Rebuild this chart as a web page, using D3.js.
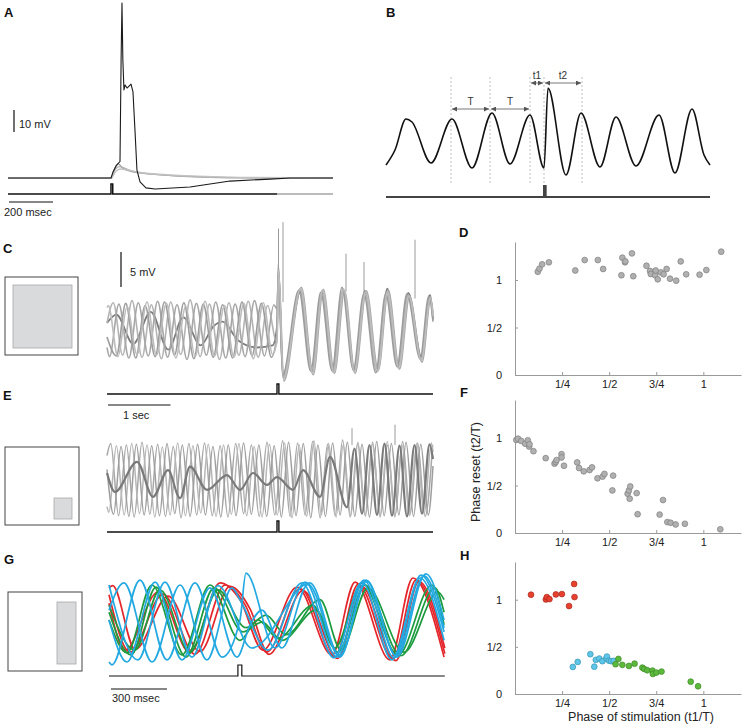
<!DOCTYPE html>
<html>
<head>
<meta charset="utf-8">
<script src="https://cdn.jsdelivr.net/npm/d3@7"></script>
<style>
  body { margin: 0; background: #fff; }
  svg { font-family: "Liberation Sans", Arial, Helvetica, sans-serif; }
</style>
</head>
<body>
<div id="fig"></div>
<script>
// ---------- A: single cell, one spiking trial and subthreshold trials (ms, mV)
const aSpikeTrace = [[0,-65],[468,-65],[477,-62.3],[491,-59.5],[509,-57.5],[514,-11.4],[518,14.5],[522,-11.4],[527,-25],[532,-22.7],[541,-24.1],[550,-23.2],[559,-22.3],[568,-25.9],[577,-43.2],[586,-61.4],[600,-66.8],[627,-69.5],[668,-70],[827,-69.1],[1009,-66.4],[1191,-65.5],[1282,-65],[1477,-65]];
const aSubTraces = [
  [[0,-65],[470,-65],[486,-60.5],[500,-58.6],[527,-61],[600,-62.7],[873,-64.5],[1182,-65],[1477,-65]],
  [[0,-65.2],[470,-65.2],[486,-61.3],[505,-59.8],[560,-61.8],[700,-63.6],[950,-64.8],[1477,-65.1]],
  [[0,-64.8],[470,-64.8],[490,-62],[510,-60.9],[600,-62.5],[800,-63.9],[1100,-64.7],[1477,-64.9]]
];
const aStim = 468;

// ---------- B: ongoing oscillation with definitions of T, t1, t2 (ms, mV rel.)
const bTrace = [[0,-8],[27,-2],[60,10.4],[78,9.2],[135,-7.2],[198,10.4],[258,-9.2],[318,12.8],[372,-7.6],[432,12],[474,-9.2],[486,22.8],[540,-12],[585,12.8],[642,-8.8],[690,11.2],[750,-8.4],[819,12],[867,-11.2],[918,14.4],[954,-4],[972,-8]];
const bMarks = [195, 312, 432, 474, 588];
const bIntervals = [
  {from: 195, to: 312, label: "T"},
  {from: 312, to: 432, label: "T"},
  {from: 432, to: 474, label: "t1"},
  {from: 474, to: 588, label: "t2"}
];
const bStim = 474;

// ---------- C: full-field stimulation, 5 trials (ms, mV rel.)
const cLight = [
  [[0,1.0],[100,3.9],[250,-3.6],[400,4.2],[560,-3.9],[710,3.6],[870,-4.1],[1020,4.0],[1180,-3.5],[1330,4.3],[1490,-3.8],[1640,3.7],[1800,-4.2],[1950,3.9],[2110,-3.6],[2260,4.1],[2420,-3.9],[2570,3.5],[2720,-2.0],[2744,8.9],[2816,-6.9],[3090,5.9],[3280,-6.1],[3440,5.6],[3616,-6.0],[3776,5.9],[3952,-5.9],[4128,5.4],[4320,-6.0],[4480,5.4],[4656,-5.4],[4816,5.0],[5024,-4.3],[5168,4.7],[5216,1.7]],
  [[0,-2.5],[40,-3.8],[190,3.7],[350,-4.0],[500,3.9],[660,-3.7],[810,4.1],[970,-3.9],[1120,3.6],[1280,-4.2],[1430,3.8],[1590,-3.6],[1740,4.0],[1900,-4.0],[2050,3.7],[2210,-3.8],[2360,4.2],[2520,-3.7],[2670,3.6],[2720,3.0],[2748,8.2],[2830,-7.3],[3110,6.1],[3300,-6.4],[3460,5.8],[3640,-6.2],[3800,5.6],[3970,-6.2],[4150,5.6],[4340,-5.8],[4500,5.7],[4680,-5.6],[4840,4.8],[5040,-4.6],[5180,4.4],[5216,2.5]],
  [[0,-1.0],[150,-3.7],[300,3.8],[460,-4.0],[610,3.5],[770,-3.8],[920,4.0],[1080,-3.6],[1230,3.9],[1390,-4.1],[1540,3.7],[1700,-3.9],[1850,3.6],[2010,-4.0],[2160,4.0],[2320,-3.7],[2470,3.8],[2630,-3.9],[2720,-0.5],[2740,9.4],[2810,-6.5],[3070,5.7],[3260,-5.9],[3420,5.4],[3600,-5.8],[3760,6.1],[3940,-5.7],[4110,5.2],[4300,-6.1],[4460,5.2],[4640,-5.2],[4800,5.2],[5010,-4.1],[5150,4.9],[5216,1.2]],
  [[0,3.2],[20,3.5],[175,-3.8],[320,3.3],[480,-3.5],[640,4.0],[790,-3.6],[950,3.8],[1100,-4.0],[1260,3.4],[1410,-3.8],[1570,4.1],[1720,-3.7],[1880,3.5],[2030,-3.9],[2190,3.8],[2340,-4.1],[2500,3.9],[2650,-3.5],[2720,-1.5],[2746,8.6],[2822,-7.0],[3100,6.0],[3290,-6.2],[3450,5.7],[3630,-6.1],[3790,5.8],[3960,-6.0],[4140,5.5],[4330,-5.9],[4490,5.5],[4670,-5.5],[4830,4.9],[5030,-4.4],[5175,4.6],[5216,2.0]]
];
const cDark = [[0,1.0],[150,2.2],[420,-2.0],[700,2.6],[980,-2.8],[1220,1.8],[1500,-2.2],[1700,0.5],[1850,1.2],[2100,-1.5],[2400,-2.5],[2650,-2.2],[2720,0.5],[2742,8.0],[2818,-6.6],[3095,5.5],[3285,-5.8],[3445,5.3],[3620,-5.7],[3780,5.6],[3955,-5.6],[4130,5.6],[4325,-5.6],[4485,5.9],[4660,-5.1],[4820,5.3],[5030,-3.8],[5170,5.0],[5216,1.5]];
const cSpikes = [[2744,8.5,14.5],[2816,4,15.4],[3824,5.5,10.9],[4112,5,9.7],[4928,4.5,12.9]];
const cStim = 2720;

// ---------- E: small corner stimulation (ms, mV rel.)
const eLight = [
  [[0,3.5],[60,5.2],[185,-5.1],[310,5.0],[435,-5.3],[560,5.4],[685,-4.9],[810,5.1],[935,-5.2],[1060,4.8],[1185,-5.4],[1310,5.2],[1435,-5.0],[1560,5.3],[1685,-5.1],[1810,4.9],[1935,-5.3],[2060,5.2],[2185,-4.8],[2310,5.0],[2435,-5.2],[2560,5.4],[2685,-5.0],[2810,5.6],[2930,-5.2],[3050,5.3],[3170,-5.0],[3290,5.5],[3410,-5.4],[3530,5.1],[3650,-5.1],[3770,5.7],[3890,-5.3],[4010,5.2],[4130,-5.0],[4250,5.4],[4370,-5.3],[4490,5.0],[4610,-5.1],[4730,5.5],[4850,-4.9],[4970,5.3],[5090,-5.2],[5210,5.0]],
  [[0,-3.8],[30,-4.6],[150,4.9],[275,-5.0],[395,5.2],[520,-4.8],[640,5.0],[765,-5.3],[885,4.7],[1010,-5.0],[1130,5.3],[1255,-5.1],[1375,4.9],[1500,-4.7],[1620,5.1],[1745,-5.2],[1865,5.0],[1990,-4.9],[2110,5.2],[2235,-5.1],[2355,4.8],[2480,-5.3],[2600,5.1],[2725,-5.0],[2840,5.3],[2960,-5.4],[3075,5.0],[3195,-5.2],[3310,5.6],[3430,-5.0],[3545,5.2],[3665,-5.3],[3780,5.0],[3900,-5.1],[4015,5.4],[4135,-5.2],[4250,5.1],[4370,-5.0],[4485,5.5],[4605,-5.3],[4720,5.0],[4840,-5.1],[4955,5.2],[5075,-4.9],[5190,5.3],[5216,4.0]],
  [[0,1.5],[105,-4.9],[225,4.8],[350,-5.2],[470,5.1],[595,-5.0],[715,4.9],[840,-5.1],[960,5.2],[1085,-4.8],[1205,5.0],[1330,-5.2],[1450,5.1],[1575,-5.0],[1695,4.8],[1820,-5.3],[1940,5.0],[2065,-5.1],[2185,5.3],[2310,-4.9],[2430,5.0],[2555,-5.2],[2675,4.9],[2790,-5.3],[2905,5.4],[3025,-5.1],[3140,5.2],[3260,-5.4],[3375,5.0],[3495,-5.2],[3610,5.3],[3730,-5.0],[3845,5.4],[3965,-5.2],[4080,5.1],[4200,-5.3],[4315,5.5],[4435,-5.1],[4550,5.2],[4670,-5.0],[4785,5.4],[4905,-5.2],[5020,5.1],[5140,-5.0],[5216,2.0]]
];
const eDark = [[0,1.0],[128,-1.7],[480,2.6],[736,-2.4],[976,1.4],[1168,-2.6],[1328,1.9],[1600,-1.4],[1920,0.7],[2128,-1.4],[2336,1.0],[2560,-0.7],[2720,0.4],[2976,-1.4],[3136,1.4],[3408,-2.4],[3568,3.3],[3840,-3.9],[3960,4.5],[4080,-4.8],[4200,5.0],[4320,-5.0],[4440,5.2],[4560,-5.1],[4680,4.9],[4800,-5.2],[4920,5.0],[5040,-4.8],[5160,5.1],[5216,3.0]];
const eSpikes = [[3920,5,7.4],[4608,5,7.9]];
const eStim = 2720;

// ---------- G: tall bar stimulation, trials grouped by phase (ms, mV rel.)
const gRed = [
  [[0,2.4],[86,-4.3],[263,4.0],[434,-4.7],[595,5.3],[702,2.9],[825,-4.3],[1008,4.7],[1195,-5.0],[1319,5.4],[1506,-5.7],[1629,6.0],[1796,-5.3]],
  [[0,3.6],[113,-4.6],[290,3.7],[461,-4.9],[622,5.0],[729,2.2],[845,-4.6],[1024,4.5],[1211,-5.3],[1335,5.1],[1522,-5.5],[1645,5.7],[1800,-4.8]],
  [[0,4.6],[20,4.9],[140,-4.2],[317,3.4],[488,-4.5],[649,4.8],[756,1.6],[857,-4.9],[1040,4.2],[1227,-5.5],[1351,4.9],[1538,-5.8],[1661,5.5],[1800,-4.0]]
];
const gBlue = [
  [[0,-6.0],[16,-6.4],[166,5.7],[311,-5.7],[461,5.3],[606,-5.3],[702,0.0],[734,6.7],[890,-4.0],[1051,5.4],[1222,-5.3],[1367,5.7],[1528,-5.4],[1672,6.4],[1796,-1.7]],
  [[0,1.4],[80,5.3],[231,-6.0],[381,5.0],[525,-5.7],[659,4.6],[702,2.9],[852,-4.3],[1034,5.3],[1206,-5.4],[1356,5.4],[1517,-5.7],[1667,6.0],[1796,-2.9]],
  [[0,0],[96,-6.0],[247,5.4],[391,-5.7],[541,4.6],[686,-5.3],[756,-0.7],[820,1.4],[927,-4.0],[1067,5.1],[1238,-5.3],[1378,5.7],[1539,-5.1],[1688,6.3],[1796,-1.1]],
  [[0,5.0],[155,-5.7],[300,5.4],[445,-5.3],[584,4.9],[766,-4.0],[1077,5.3],[1238,-5.1],[1383,5.6],[1544,-5.3],[1699,6.6],[1796,0]]
];
const gGreen = [
  [[0,0],[96,-4.7],[230,5.0],[391,-5.0],[541,5.0],[702,-2.9],[798,0],[906,-2.6],[1093,2.1],[1211,-4.0],[1356,5.3],[1549,-5.0],[1731,5.0],[1796,-0.7]],
  [[0,1.1],[118,-5.0],[252,4.7],[413,-5.3],[563,4.6],[718,-1.7],[820,-0.3],[927,-2.9],[1110,1.4],[1227,-4.6],[1372,5.0],[1565,-5.1],[1747,4.6],[1796,1.1]],
  [[0,2.1],[139,-4.3],[273,4.3],[434,-4.6],[584,4.3],[734,-1.1],[841,0.7],[949,-2.1],[1131,2.9],[1244,-4.3],[1388,4.6],[1581,-4.6],[1764,4.0],[1796,2.9]]
];
const gStim = 691;

// ---------- D, F, H: phase of stimulation (t1/T) vs phase reset (t2/T)
const dPoints = [[0.121,1.087],[0.130,1.12],[0.144,1.165],[0.18,1.186],[0.32,1.10],[0.37,1.21],[0.44,1.21],[0.468,1.116],[0.565,1.05],[0.57,1.235],[0.584,1.186],[0.586,1.196],[0.621,1.28],[0.628,1.04],[0.698,1.15],[0.717,1.095],[0.721,1.063],[0.744,1.05],[0.747,1.10],[0.758,1.007],[0.775,1.08],[0.789,1.06],[0.805,1.116],[0.823,1.014],[0.856,0.993],[0.88,1.196],[0.909,1.06],[0.98,1.056],[1.016,1.105],[1.095,1.298]];
const fPoints = [[0.007,0.979],[0.016,0.993],[0.033,0.969],[0.054,0.94],[0.068,0.976],[0.075,0.91],[0.077,0.934],[0.098,0.861],[0.163,0.788],[0.21,0.73],[0.216,0.747],[0.221,0.768],[0.247,0.83],[0.247,0.795],[0.26,0.708],[0.33,0.743],[0.34,0.684],[0.365,0.649],[0.396,0.663],[0.409,0.691],[0.438,0.576],[0.465,0.594],[0.475,0.622],[0.521,0.604],[0.517,0.448],[0.598,0.413],[0.605,0.448],[0.612,0.49],[0.609,0.361],[0.646,0.42],[0.651,0.198],[0.768,0.194],[0.786,0.347],[0.809,0.115],[0.826,0.108],[0.853,0.09],[0.902,0.097],[1.09,0.039]];
const hRed = [[0.085,1.053],[0.164,1.003],[0.169,1.028],[0.183,1.007],[0.217,1.056],[0.249,1.06],[0.287,0.933],[0.314,1.167],[0.316,1.028]];
const hBlue = [[0.307,0.287],[0.333,0.34],[0.4,0.422],[0.421,0.29],[0.429,0.362],[0.448,0.376],[0.464,0.348],[0.485,0.376],[0.488,0.397],[0.499,0.354],[0.51,0.348],[0.524,0.351]];
const hGreen = [[0.534,0.316],[0.549,0.372],[0.57,0.309],[0.605,0.298],[0.635,0.322],[0.676,0.28],[0.686,0.266],[0.702,0.252],[0.73,0.248],[0.732,0.213],[0.751,0.227],[0.778,0.238],[0.933,0.131],[0.972,0.082]];

const phaseTicks = [0.25, 0.5, 0.75, 1];
const phaseTickLabels = ["1/4", "1/2", "3/4", "1"];
const resetTicks = [0, 0.5, 1];
const resetTickLabels = ["0", "1/2", "1"];

// ======================================================================
const svg = d3.select("#fig").append("svg")
  .attr("width", 744)
  .attr("height", 728);

svg.append("defs").append("marker")
  .attr("id", "arr")
  .attr("viewBox", "0 0 6 6")
  .attr("refX", 6).attr("refY", 3)
  .attr("markerUnits", "userSpaceOnUse")
  .attr("markerWidth", 5).attr("markerHeight", 5)
  .attr("orient", "auto-start-reverse")
  .append("path").attr("d", "M0,0L6,3L0,6z").attr("fill", "#555");

function drawTrace(g, data, x, y, color, width, curve) {
  g.append("path")
    .datum(data)
    .attr("fill", "none")
    .attr("stroke", color)
    .attr("stroke-width", width)
    .attr("stroke-linejoin", "round")
    .attr("d", d3.line()
      .x(d => x(d[0]))
      .y(d => y(d[1]))
      .curve(curve || d3.curveMonotoneX));
}

// stimulus marker: flat line with a small pulse
function drawStim(g, x, t0, t1, tStim, dur, yBase, h, color, width) {
  const pts = [[t0,0],[tStim,0],[tStim,1],[tStim+dur,1],[tStim+dur,0],[t1,0]];
  g.append("path")
    .datum(pts)
    .attr("fill", "none")
    .attr("stroke", color)
    .attr("stroke-width", width)
    .attr("d", d3.line().x(d => x(d[0])).y(d => yBase - d[1] * h));
}

function panelLabel(txt, x, y) {
  svg.append("text").attr("x", x).attr("y", y)
    .attr("font-size", 13).attr("font-weight", "bold").attr("fill", "#111")
    .text(txt);
}

function label(txt, x, y, size) {
  return svg.append("text").attr("x", x).attr("y", y)
    .attr("font-size", size || 11).attr("fill", "#222").text(txt);
}

function stimBox(x, y, w, h, ix, iy, iw, ih) {
  svg.append("rect").attr("x", x).attr("y", y).attr("width", w).attr("height", h)
    .attr("fill", "#fff").attr("stroke", "#444").attr("stroke-width", 1);
  svg.append("rect").attr("x", ix).attr("y", iy).attr("width", iw).attr("height", ih)
    .attr("fill", "#d9dadc").attr("stroke", "#a8a8a8").attr("stroke-width", 0.8);
}

// ---------------- A
const xA = d3.scaleLinear().domain([0, 1477]).range([8, 333]);
const yA = d3.scaleLinear().domain([-65, -55]).range([178, 156]);
const gA = svg.append("g");
aSubTraces.forEach((tr, i) => drawTrace(gA, tr, xA, yA, ["#9a9a9a", "#b0b0b0", "#c2c2c2"][i], 1.3, d3.curveMonotoneX));
drawTrace(gA, aSpikeTrace, xA, yA, "#1a1a1a", 1.1, d3.curveLinear);
drawStim(gA, xA, 0, 1223, aStim, 8, 194, 10, "#111", 1.5);
gA.append("line").attr("x1", xA(1223)).attr("x2", xA(1477)).attr("y1", 194).attr("y2", 194)
  .attr("stroke", "#555").attr("stroke-width", 0.8);
// scale bars
gA.append("line").attr("x1", 14).attr("x2", 14).attr("y1", 132).attr("y2", 132 - (yA(-65) - yA(-55)))
  .attr("stroke", "#111").attr("stroke-width", 1.2);
gA.append("line").attr("x1", 9).attr("x2", 9 + xA(200) - xA(0)).attr("y1", 202).attr("y2", 202)
  .attr("stroke", "#111").attr("stroke-width", 1.2);
label("10 mV", 19, 128);
label("200 msec", 4, 216);
panelLabel("A", 4, 17);

// ---------------- B
const xB = d3.scaleLinear().domain([0, 972]).range([386, 710]);
const yB = d3.scaleLinear().domain([0, 10]).range([145, 120]);
const gB = svg.append("g");
gB.selectAll("line.mark").data(bMarks).enter().append("line")
  .attr("x1", d => xB(d)).attr("x2", d => xB(d))
  .attr("y1", 77).attr("y2", 183)
  .attr("stroke", "#b0b0b0").attr("stroke-width", 0.8).attr("stroke-dasharray", "2,2");
drawTrace(gB, bTrace, xB, yB, "#111", 1.6);
bIntervals.forEach(iv => {
  const yy = iv.label === "T" ? 109 : 83;
  gB.append("line")
    .attr("x1", xB(iv.from) + 1).attr("x2", xB(iv.to) - 1)
    .attr("y1", yy).attr("y2", yy)
    .attr("stroke", "#555").attr("stroke-width", 0.8)
    .attr("marker-start", "url(#arr)").attr("marker-end", "url(#arr)");
  gB.append("text")
    .attr("x", (xB(iv.from) + xB(iv.to)) / 2).attr("y", yy - 4)
    .attr("text-anchor", "middle").attr("font-size", 10).attr("fill", "#333")
    .text(iv.label);
});
drawStim(gB, xB, 0, 972, bStim, 5, 197, 11, "#444", 2);
panelLabel("B", 386, 17);

// ---------------- C
const xC = d3.scaleLinear().domain([0, 5216]).range([107, 433]);
const yC = d3.scaleLinear().domain([0, 5]).range([330, 295]);
const gC = svg.append("g");
gC.selectAll("line.spk").data(cSpikes).enter().append("line")
  .attr("x1", d => xC(d[0])).attr("x2", d => xC(d[0]))
  .attr("y1", d => yC(d[1])).attr("y2", d => yC(d[2]))
  .attr("stroke", "#9a9a9a").attr("stroke-width", 1);
drawTrace(gC, cDark, xC, yC, "#7c7c7c", 1.8);
cLight.forEach((tr, i) => drawTrace(gC, tr, xC, yC, ["#b4b4b4", "#a6a6a6", "#9c9c9c", "#bdbdbd"][i], 1.6));
drawStim(gC, xC, 0, 5216, cStim, 30, 394, 10, "#111", 1.4);
gC.append("line").attr("x1", 121).attr("x2", 121).attr("y1", 287).attr("y2", 287 - (yC(0) - yC(5)))
  .attr("stroke", "#111").attr("stroke-width", 1.2);
gC.append("line").attr("x1", 108).attr("x2", 108 + xC(1000) - xC(0)).attr("y1", 405).attr("y2", 405)
  .attr("stroke", "#111").attr("stroke-width", 1.2);
label("5 mV", 130, 276);
label("1 sec", 123, 419);
stimBox(5, 277, 73, 78, 13, 285, 59, 63);
panelLabel("C", 3, 253);

// ---------------- E
const yE = d3.scaleLinear().domain([0, 5]).range([480, 445]);
const gE = svg.append("g");
gE.selectAll("line.spk").data(eSpikes).enter().append("line")
  .attr("x1", d => xC(d[0])).attr("x2", d => xC(d[0]))
  .attr("y1", d => yE(d[1])).attr("y2", d => yE(d[2]))
  .attr("stroke", "#9a9a9a").attr("stroke-width", 1);
eLight.forEach((tr, i) => drawTrace(gE, tr, xC, yE, ["#a8a8a8", "#b6b6b6", "#9e9e9e"][i], 1.5));
drawTrace(gE, eDark, xC, yE, "#7a7a7a", 2.2);
drawStim(gE, xC, 0, 5216, eStim, 30, 532, 11, "#111", 1.4);
stimBox(5, 447, 74, 78, 54, 498, 18, 21);
panelLabel("E", 3, 400);

// ---------------- G
const xG = d3.scaleLinear().domain([0, 1800]).range([109, 444.8]);
const yG = d3.scaleLinear().domain([0, 5]).range([620, 585]);
const gG = svg.append("g");
gRed.forEach(tr => drawTrace(gG, tr, xG, yG, "#e4262b", 1.7));
gGreen.forEach(tr => drawTrace(gG, tr, xG, yG, "#1c9b3f", 1.7));
gBlue.forEach(tr => drawTrace(gG, tr, xG, yG, "#22a9e1", 1.7));
drawStim(gG, xG, 0, 1800, gStim, 21, 676, 11, "#111", 1.2);
gG.append("line").attr("x1", 111).attr("x2", 111 + xG(300) - xG(0)).attr("y1", 689).attr("y2", 689)
  .attr("stroke", "#111").attr("stroke-width", 1.2);
label("300 msec", 112, 702);
stimBox(8, 592, 74, 79, 57, 602, 19, 62);
panelLabel("G", 4, 564);

// ---------------- scatter panels D, F, H
const xPh = d3.scaleLinear().domain([0, 1.2]).range([515, 741]);

function scatterPanel(bottom, top, groups) {
  const y = d3.scaleLinear().domain([0, 1.4]).range([bottom, top]);
  const g = svg.append("g");
  const xAxis = d3.axisBottom(xPh)
    .tickValues(phaseTicks)
    .tickFormat((d, i) => phaseTickLabels[i])
    .tickSize(-3).tickSizeOuter(0).tickPadding(5);
  const yAxis = d3.axisLeft(y)
    .tickValues(resetTicks)
    .tickFormat((d, i) => resetTickLabels[i])
    .tickSize(-3).tickSizeOuter(0).tickPadding(13);
  const gx = g.append("g").attr("transform", `translate(0,${bottom})`).call(xAxis);
  const gy = g.append("g").attr("transform", `translate(${xPh(0)},0)`).call(yAxis);
  [gx, gy].forEach(a => {
    a.select(".domain").attr("stroke", "#9a9a9a");
    a.selectAll(".tick line").attr("stroke", "#9a9a9a");
    a.selectAll("text").attr("font-size", 11).attr("fill", "#222")
      .attr("font-family", "Liberation Sans, Arial, sans-serif");
  });
  groups.forEach(grp => {
    g.append("g").selectAll("circle").data(grp.pts).enter().append("circle")
      .attr("cx", d => xPh(d[0]))
      .attr("cy", d => y(d[1]))
      .attr("r", 2.9)
      .attr("fill", grp.fill)
      .attr("stroke", grp.stroke)
      .attr("stroke-width", 0.7);
  });
  return g;
}

scatterPanel(375, 242, [{pts: dPoints, fill: "#b0b0b0", stroke: "#7e7e7e"}]);
panelLabel("D", 459, 237);

scatterPanel(533, 400, [{pts: fPoints, fill: "#b0b0b0", stroke: "#7e7e7e"}]);
panelLabel("F", 460, 397);
svg.append("text")
  .attr("transform", "translate(480,472) rotate(-90)")
  .attr("text-anchor", "middle").attr("font-size", 12.5).attr("fill", "#222")
  .text("Phase reset (t2/T)");

scatterPanel(694, 562, [
  {pts: hRed, fill: "#e8412f", stroke: "#a8281c"},
  {pts: hBlue, fill: "#5ec6e8", stroke: "#3a93b2"},
  {pts: hGreen, fill: "#5cb93b", stroke: "#3f8a2a"}
]);
panelLabel("H", 460, 560);
svg.append("text")
  .attr("x", 641).attr("y", 721)
  .attr("text-anchor", "middle").attr("font-size", 12.5).attr("fill", "#222")
  .text("Phase of stimulation (t1/T)");
</script>
</body>
</html>
